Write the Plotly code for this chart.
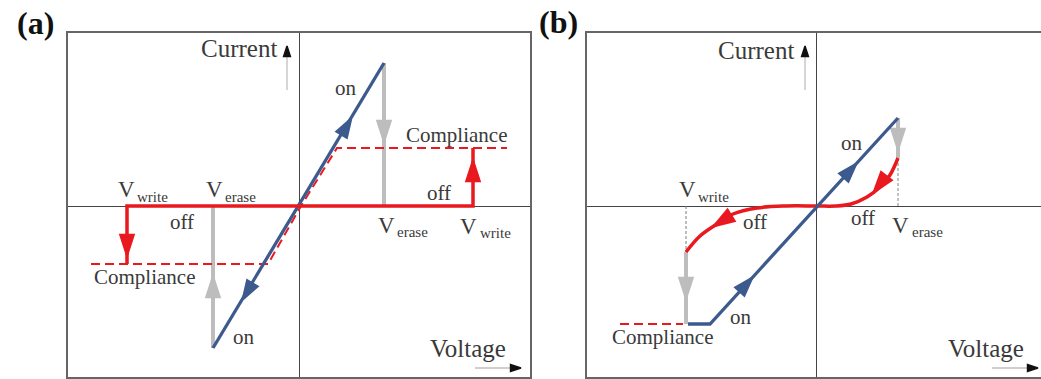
import plotly.graph_objects as go

W, H = 1041, 379
# all values are pixel offsets from each panel's axis origin (x right, y up)

# ---------------- panel (a) ----------------
a_blue_x = [-86, 85]
a_blue_y = [-142, 143]
a_comp_x = [-208, -31, 2, 38, 208]
a_comp_y = [-58, -58, 0, 58, 58]
a_red_x = [-172, -172, 174, 174]
a_red_y = [-58, 0, 0, 58]
a_gray1_x = [85, 85]
a_gray1_y = [143, 0]
a_gray2_x = [-86, -86]
a_gray2_y = [-142, 0]
a_blue_tip_x = [52, -56]
a_blue_tip_y = [87, -93]
a_blue_tip_ang = [31, 211]
a_red_tip_x = [-172, 174]
a_red_tip_y = [-49, 45]
a_red_tip_ang = [180, 0]
a_gray_tip_x = [85, -86]
a_gray_tip_y = [65, -71]
a_gray_tip_ang = [180, 0]

# ---------------- panel (b) ----------------
b_blue_x = [-128, -106, 82]
b_blue_y = [-118, -118, 88]
b_comp_x = [-196, -133]
b_comp_y = [-118, -118]
b_red_x = [-130, -116, -99, -83, -59, -30, 0, 20, 35, 51, 64, 74, 82]
b_red_y = [-46, -30, -18, -8, -2, 0, 0, 0, 2, 9, 19, 31, 48]
b_gray1_x = [82, 82]
b_gray1_y = [88, 48]
b_gray2_x = [-130, -130]
b_gray2_y = [-46, -118]
b_thin1_x = [82, 82]
b_thin1_y = [48, 0]
b_thin2_x = [-130, -130]
b_thin2_y = [0, -46]
b_blue_tip_x = [40, -64]
b_blue_tip_y = [42, -72]
b_blue_tip_ang = [42, 42]
b_red_tip_x = [-102, 58]
b_red_tip_y = [-20, 14]
b_red_tip_ang = [238, 218]
b_gray_tip_x = [82, -130]
b_gray_tip_y = [57, -92]
b_gray_tip_ang = [180, 180]

# axis indicator arrows (Current / Voltage)
cur_arrow_x = {"a": -12, "b": -11}
cur_arrow_y = [116, 152]
cur_tip_y = 160
volt_arrow_x = [176, 214]
volt_arrow_y = -162
volt_tip_x = 222

# text labels: (text, x, y, size, xanchor)
a_labels = [
    ("Current", -60, 158, 25, "center"),
    ("Voltage", 169, -142, 25, "center"),
    ("V", -173, 17, 23, "center"), ("write", -164, 9, 15, "left"),
    ("V", -85, 17, 23, "center"), ("erase", -76, 9, 15, "left"),
    ("off", -117, -16, 21, "center"),
    ("Compliance", -155, -71, 21, "center"),
    ("on", -55, -131, 21, "center"),
    ("on", 47, 118, 21, "center"),
    ("Compliance", 157, 71, 21, "center"),
    ("off", 140, 13, 21, "center"),
    ("V", 87, -19, 23, "center"), ("erase", 96, -26, 15, "left"),
    ("V", 169, -20, 23, "center"), ("write", 179, -27, 15, "left"),
]
b_labels = [
    ("Current", -60, 156, 25, "center"),
    ("Voltage", 170, -142, 25, "center"),
    ("V", -129, 17, 23, "center"), ("write", -120, 9, 15, "left"),
    ("off", -61, -16, 21, "center"),
    ("off", 47, -12, 21, "center"),
    ("V", 84, -19, 23, "center"), ("erase", 94, -26, 15, "left"),
    ("on", 36, 63, 21, "center"),
    ("on", -75, -111, 21, "center"),
    ("Compliance", -154, -131, 21, "center"),
]

BLUE = "#3D5A8E"
RED = "#E8191F"
GRAY = "#BDBDBD"
TXT = "#3a3a3a"
FONT = "Liberation Serif"

fig = go.Figure()


def line(x, y, color, width, xa, ya, dash="solid", shape="linear"):
    fig.add_trace(go.Scatter(x=x, y=y, mode="lines", xaxis=xa, yaxis=ya,
                             line=dict(color=color, width=width, dash=dash, shape=shape),
                             hoverinfo="skip", showlegend=False))


def heads(x, y, ang, color, size, xa, ya, lw=2.5):
    fig.add_trace(go.Scatter(x=x, y=y, mode="markers", xaxis=xa, yaxis=ya,
                             marker=dict(symbol="arrow", size=size, angle=ang, color=color,
                                         line=dict(color=color, width=lw)),
                             hoverinfo="skip", showlegend=False))


# panel a
line(a_gray1_x, a_gray1_y, GRAY, 4, "x", "y")
line(a_gray2_x, a_gray2_y, GRAY, 4, "x", "y")
heads(a_gray_tip_x, a_gray_tip_y, a_gray_tip_ang, GRAY, 21, "x", "y")
line(a_comp_x, a_comp_y, RED, 2, "x", "y", dash="9px,5px")
line(a_blue_x, a_blue_y, BLUE, 3.3, "x", "y")
heads(a_blue_tip_x, a_blue_tip_y, a_blue_tip_ang, BLUE, 19, "x", "y")
line(a_red_x, a_red_y, RED, 3.5, "x", "y")
heads(a_red_tip_x, a_red_tip_y, a_red_tip_ang, RED, 21, "x", "y")

# panel b
line(b_thin1_x, b_thin1_y, "#7a8a84", 1, "x2", "y2", dash="3px,2px")
line(b_thin2_x, b_thin2_y, "#7a7a7a", 1, "x2", "y2", dash="3px,2px")
line(b_gray1_x, b_gray1_y, GRAY, 4, "x2", "y2")
line(b_gray2_x, b_gray2_y, GRAY, 4, "x2", "y2")
heads(b_gray_tip_x, b_gray_tip_y, b_gray_tip_ang, GRAY, 21, "x2", "y2")
line(b_comp_x, b_comp_y, RED, 2, "x2", "y2", dash="9px,5px")
line(b_red_x, b_red_y, RED, 3.5, "x2", "y2", shape="spline")
heads(b_red_tip_x, b_red_tip_y, b_red_tip_ang, RED, 21, "x2", "y2")
line(b_blue_x, b_blue_y, BLUE, 3.3, "x2", "y2")
heads(b_blue_tip_x, b_blue_tip_y, b_blue_tip_ang, BLUE, 19, "x2", "y2")

# Current / Voltage indicator arrows
for p, xa, ya in (("a", "x", "y"), ("b", "x2", "y2")):
    cx = cur_arrow_x[p]
    line([cx, cx], cur_arrow_y, "#c8c8c8", 1.5, xa, ya)
    heads([cx], [cur_tip_y], [0], "#111111", 11, xa, ya, lw=1.5)
    line(volt_arrow_x, [volt_arrow_y, volt_arrow_y], "#a0a0a0", 1.2, xa, ya)
    heads([volt_tip_x], [volt_arrow_y], [90], "#111111", 11, xa, ya, lw=1.5)

annotations = []
for labels, xr, yr in ((a_labels, "x", "y"), (b_labels, "x2", "y2")):
    for txt, x, y, s, anc in labels:
        annotations.append(dict(text=txt, x=x, y=y, xref=xr, yref=yr, showarrow=False,
                                xanchor=anc, yanchor="middle",
                                font=dict(family=FONT, size=s, color=TXT)))
annotations.append(dict(text="<b>(a)</b>", x=35 / W, y=1 - 23 / H, xref="paper", yref="paper",
                        showarrow=False, xanchor="center", yanchor="middle",
                        font=dict(family=FONT, size=32, color="#111111")))
annotations.append(dict(text="<b>(b)</b>", x=558 / W, y=1 - 22 / H, xref="paper", yref="paper",
                        showarrow=False, xanchor="center", yanchor="middle",
                        font=dict(family=FONT, size=32, color="#111111")))

ydom = [2 / H, 1 - 33 / H]
common = dict(showgrid=False, showticklabels=False, ticks="", zeroline=True,
              zerolinecolor="#444444", zerolinewidth=1.2, showline=True,
              linecolor="#666666", linewidth=2, fixedrange=True)

fig.update_layout(
    width=W, height=H, margin=dict(l=0, r=0, t=0, b=0),
    paper_bgcolor="white", plot_bgcolor="white",
    annotations=annotations,
    xaxis=dict(domain=[68 / W, 530 / W], range=[68 - 299, 530 - 299], mirror=True, anchor="y", **common),
    yaxis=dict(domain=ydom, range=[-171, 173], mirror=True, anchor="x", **common),
    xaxis2=dict(domain=[587 / W, 1.0], range=[587 - 816, 1041 - 816], mirror=True, anchor="y2", **common),
    yaxis2=dict(domain=ydom, range=[-171, 173], mirror=False, anchor="x2", **common),
)

fig.write_html("out.html")
